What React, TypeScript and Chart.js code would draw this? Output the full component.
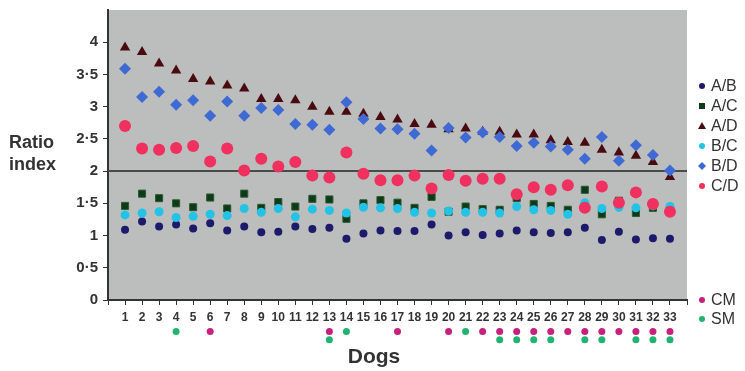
import React, { useEffect, useRef } from 'react';
import { Chart, registerables } from 'chart.js';

Chart.register(...registerables);

const dogs = [1, 2, 3, 4, 5, 6, 7, 8, 9, 10, 11, 12, 13, 14, 15, 16, 17, 18, 19, 20, 21, 22, 23, 24, 25, 26, 27, 28, 29, 30, 31, 32, 33];

const abValues = [1.09, 1.22, 1.14, 1.17, 1.11, 1.19, 1.08, 1.14, 1.05, 1.06, 1.14, 1.10, 1.12, 0.95, 1.03, 1.08, 1.07, 1.07, 1.17, 1.00, 1.05, 1.01, 1.03, 1.08, 1.05, 1.04, 1.05, 1.12, 0.93, 1.06, 0.94, 0.96, 0.95];
const acValues = [1.46, 1.65, 1.58, 1.50, 1.44, 1.59, 1.42, 1.65, 1.43, 1.52, 1.45, 1.57, 1.56, 1.26, 1.50, 1.55, 1.51, 1.43, 1.60, 1.37, 1.45, 1.41, 1.40, 1.58, 1.49, 1.46, 1.40, 1.71, 1.33, 1.54, 1.35, 1.43, 1.39];
const adValues = [3.92, 3.85, 3.67, 3.56, 3.43, 3.39, 3.33, 3.28, 3.12, 3.12, 3.10, 3.00, 2.92, 2.92, 2.89, 2.84, 2.80, 2.73, 2.72, 2.65, 2.66, 2.61, 2.61, 2.57, 2.57, 2.48, 2.45, 2.44, 2.33, 2.29, 2.24, 2.14, 1.91];
const bcValues = [1.32, 1.35, 1.37, 1.28, 1.30, 1.33, 1.31, 1.42, 1.36, 1.42, 1.29, 1.41, 1.39, 1.35, 1.44, 1.43, 1.42, 1.36, 1.35, 1.38, 1.36, 1.36, 1.35, 1.45, 1.40, 1.39, 1.33, 1.51, 1.42, 1.44, 1.43, 1.46, 1.45];
const bdValues = [3.59, 3.15, 3.23, 3.03, 3.10, 2.86, 3.08, 2.86, 2.98, 2.95, 2.73, 2.72, 2.64, 3.07, 2.81, 2.66, 2.65, 2.58, 2.32, 2.67, 2.52, 2.60, 2.53, 2.39, 2.44, 2.38, 2.33, 2.19, 2.53, 2.16, 2.40, 2.25, 2.01];
const cdValues = [2.70, 2.35, 2.33, 2.36, 2.39, 2.15, 2.35, 2.01, 2.19, 2.07, 2.14, 1.93, 1.90, 2.29, 1.96, 1.86, 1.86, 1.93, 1.73, 1.94, 1.85, 1.88, 1.88, 1.64, 1.75, 1.71, 1.78, 1.43, 1.76, 1.51, 1.67, 1.49, 1.37];

const cmDogs = [6, 13, 17, 20, 22, 23, 24, 25, 26, 27, 28, 29, 30, 31, 32, 33];
const smDogs = [4, 13, 14, 21, 23, 24, 25, 26, 28, 29, 31, 32, 33];

const thresholdValue = 2;
const yTickValues = [0, 0.5, 1, 1.5, 2, 2.5, 3, 3.5, 4];
const seriesLabels = ['A/B', 'A/C', 'A/D', 'B/C', 'B/D', 'C/D'];
const markerLabels = ['CM', 'SM'];

// rows below the axis (in y-axis units) for the CM / SM marker strips
const MARK_ROW_1 = -0.49;
const MARK_ROW_2 = -0.615;

const COLORS = {
  ab: '#1d1a6b',
  ac: '#0e3a17',
  ad: '#4a0b10',
  bc: '#22c3e6',
  bd: '#3f69d3',
  cd: '#f0305f',
  cm: '#c6217c',
  sm: '#21b36f',
};

const toPoints = (vals: number[]) => dogs.map((d, i) => ({ x: d, y: vals[i] }));

const fmt = (v: number) => String(v).replace('.', '·');

const overlayPlugin = {
  id: 'overlay',
  afterDraw(chart: any) {
    const ctx = chart.ctx as CanvasRenderingContext2D;
    const xs = chart.scales.x;
    const ys = chart.scales.y;
    ctx.save();

    // CM / SM marker strips below the x axis
    const dot = (d: number, row: number, color: string) => {
      ctx.fillStyle = color;
      ctx.beginPath();
      ctx.arc(xs.getPixelForValue(d), ys.getPixelForValue(row), 3.5, 0, Math.PI * 2);
      ctx.fill();
    };
    cmDogs.forEach((d) => dot(d, MARK_ROW_1, COLORS.cm));
    smDogs.forEach((d) => dot(d, cmDogs.includes(d) ? MARK_ROW_2 : MARK_ROW_1, COLORS.sm));

    ctx.fillStyle = '#333';
    ctx.textBaseline = 'middle';
    // Axis titles
    ctx.font = 'bold 18px "Liberation Sans", Arial, sans-serif';
    ctx.textAlign = 'left';
    ctx.fillText('Ratio', 9, 143);
    ctx.fillText('index', 9, 165);
    ctx.font = 'bold 21px "Liberation Sans", Arial, sans-serif';
    ctx.textAlign = 'center';
    ctx.fillText('Dogs', 374, 357);

    // Legend
    const entries = [
      { label: seriesLabels[0], color: COLORS.ab, shape: 'circle', y: 86 },
      { label: seriesLabels[1], color: COLORS.ac, shape: 'square', y: 106 },
      { label: seriesLabels[2], color: COLORS.ad, shape: 'triangle', y: 126 },
      { label: seriesLabels[3], color: COLORS.bc, shape: 'circle', y: 146 },
      { label: seriesLabels[4], color: COLORS.bd, shape: 'diamond', y: 166 },
      { label: seriesLabels[5], color: COLORS.cd, shape: 'circle', y: 186 },
      { label: markerLabels[0], color: COLORS.cm, shape: 'circle', y: 300 },
      { label: markerLabels[1], color: COLORS.sm, shape: 'circle', y: 319 },
    ];
    ctx.font = '16px "Liberation Sans", Arial, sans-serif';
    ctx.textAlign = 'left';
    entries.forEach((e) => {
      const mx = 702;
      const my = e.y;
      ctx.fillStyle = e.color;
      ctx.beginPath();
      if (e.shape === 'circle') {
        ctx.arc(mx, my, 3, 0, Math.PI * 2);
      } else if (e.shape === 'square') {
        ctx.rect(mx - 3, my - 3, 6, 6);
      } else if (e.shape === 'triangle') {
        ctx.moveTo(mx, my - 4);
        ctx.lineTo(mx + 4, my + 3);
        ctx.lineTo(mx - 4, my + 3);
        ctx.closePath();
      } else if (e.shape === 'diamond') {
        ctx.moveTo(mx, my - 4);
        ctx.lineTo(mx + 4, my);
        ctx.lineTo(mx, my + 4);
        ctx.lineTo(mx - 4, my);
        ctx.closePath();
      }
      ctx.fill();
      ctx.fillStyle = '#333';
      ctx.fillText(e.label, 711, my + 1);
    });
    ctx.restore();
  },
};

const bgPlugin = {
  id: 'plotBg',
  beforeDraw(chart: any) {
    const { ctx, chartArea } = chart;
    ctx.save();
    ctx.fillStyle = '#ffffff';
    ctx.fillRect(0, 0, chart.width, chart.height);
    ctx.fillStyle = '#bcbdbd';
    ctx.fillRect(chartArea.left, chartArea.top, chartArea.right - chartArea.left, chartArea.bottom - chartArea.top);
    ctx.restore();
  },
};

export default function App() {
  const canvasRef = useRef<HTMLCanvasElement | null>(null);

  useEffect(() => {
    if (!canvasRef.current) return;

    const chart = new Chart(canvasRef.current, {
      type: 'scatter',
      data: {
        datasets: [
          {
            label: 'threshold',
            data: [{ x: 0, y: thresholdValue }, { x: 34, y: thresholdValue }],
            showLine: true,
            borderColor: '#4a4a4a',
            borderWidth: 2,
            pointRadius: 0,
            order: 20,
          } as any,
          { label: 'A/B', data: toPoints(abValues), pointStyle: 'circle', pointRadius: 4, backgroundColor: COLORS.ab, borderColor: COLORS.ab, borderWidth: 0, order: 6 },
          { label: 'A/C', data: toPoints(acValues), pointStyle: 'rect', pointRadius: 5, backgroundColor: COLORS.ac, borderColor: '#2a5a33', borderWidth: 1, order: 5 },
          { label: 'A/D', data: toPoints(adValues), pointStyle: 'triangle', pointRadius: 6, backgroundColor: COLORS.ad, borderColor: COLORS.ad, borderWidth: 0, order: 4 },
          { label: 'B/C', data: toPoints(bcValues), pointStyle: 'circle', pointRadius: 4.5, backgroundColor: COLORS.bc, borderColor: COLORS.bc, borderWidth: 0, order: 3 },
          { label: 'B/D', data: toPoints(bdValues), pointStyle: 'rectRot', pointRadius: 6, backgroundColor: COLORS.bd, borderColor: COLORS.bd, borderWidth: 0, order: 2 },
          { label: 'C/D', data: toPoints(cdValues), pointStyle: 'circle', pointRadius: 6, backgroundColor: COLORS.cd, borderColor: COLORS.cd, borderWidth: 0, order: 1 },
        ],
      },
      options: {
        animation: false,
        responsive: false,
        events: [],
        layout: { padding: { top: 10, right: 58, left: 0, bottom: 0 } },
        plugins: {
          legend: { display: false },
          tooltip: { enabled: false },
          title: { display: false },
        },
        scales: {
          x: {
            type: 'linear',
            min: 0,
            max: 34,
            afterBuildTicks: (scale: any) => {
              scale.ticks = Array.from({ length: 35 }, (_, i) => ({ value: i }));
            },
            ticks: {
              autoSkip: false,
              maxRotation: 0,
              padding: 5,
              color: '#333',
              font: { family: '"Liberation Sans", Arial, sans-serif', size: 12, weight: 'bold' },
              callback: (v: any) => (v >= 1 && v <= 33 ? String(v) : ''),
            },
            grid: { display: true, drawOnChartArea: false, drawTicks: true, tickLength: 5, color: '#333', tickColor: '#333' },
            border: { display: true, color: '#333', width: 2 },
            afterFit: (scale: any) => {
              scale.height = 71;
              scale.paddingLeft = 0;
              scale.paddingRight = 0;
            },
          },
          y: {
            type: 'linear',
            min: 0,
            max: 4.5,
            afterBuildTicks: (scale: any) => {
              scale.ticks = yTickValues.map((v) => ({ value: v }));
            },
            ticks: {
              padding: 5,
              color: '#333',
              font: { family: '"Liberation Sans", Arial, sans-serif', size: 15, weight: 'bold' },
              callback: (v: any) => fmt(Number(v)),
            },
            grid: { display: true, drawOnChartArea: false, drawTicks: true, tickLength: 5, color: '#333', tickColor: '#333' },
            border: { display: true, color: '#333', width: 2 },
            afterFit: (scale: any) => {
              scale.width = 108;
              scale.paddingTop = 0;
              scale.paddingBottom = 0;
            },
          },
        },
      } as any,
      plugins: [bgPlugin, overlayPlugin],
    });
    return () => chart.destroy();
  }, []);

  return (
    <div style={{ position: 'absolute', left: 0, top: 0, width: 745, height: 371, background: '#fff' }}>
      <canvas ref={canvasRef} width={745} height={371} style={{ display: 'block' }} />
    </div>
  );
}
